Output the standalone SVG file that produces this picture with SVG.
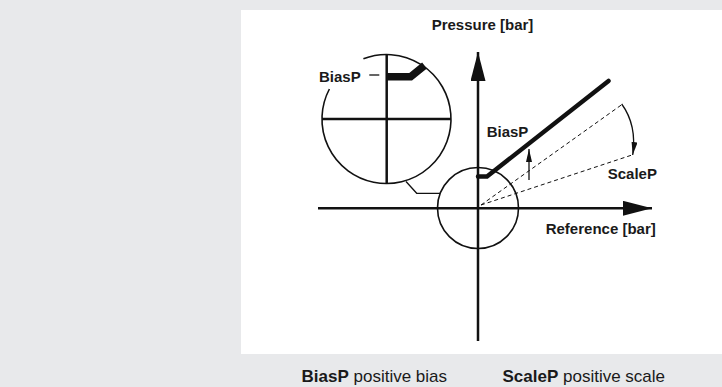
<svg xmlns="http://www.w3.org/2000/svg" width="722" height="387" viewBox="0 0 722 387">
  <style>
    .lbl { font-family: "Liberation Sans", Arial, Helvetica, sans-serif; font-weight: bold; font-size: 15px; fill: #1a1a1a; }
    .leg { font-family: "Liberation Sans", Arial, Helvetica, sans-serif; font-size: 17px; fill: #1a1a1a; }
    .legb { font-weight: bold; }
    .ax { stroke: #111; stroke-width: 2.5; fill: none; }
    .ring { stroke: #111; stroke-width: 1.6; fill: none; }
    .thin { stroke: #111; stroke-width: 1.3; fill: none; }
    .dash { stroke: #111; stroke-width: 1; stroke-dasharray: 4 3; fill: none; }
    .bias { stroke: #111; fill: none; stroke-linejoin: miter; }
  </style>
  <defs>
    <marker id="bigArrow" markerUnits="userSpaceOnUse" markerWidth="29" markerHeight="15" refX="29" refY="7.5" orient="auto">
      <path d="M0,0 L29,7.5 L0,15 z" fill="#111"/>
    </marker>
    <marker id="smallArrow" markerUnits="userSpaceOnUse" markerWidth="13" markerHeight="6" refX="13" refY="3" orient="auto">
      <path d="M0,0 L13,3 L0,6 z" fill="#111"/>
    </marker>
  </defs>

  <rect x="0" y="0" width="722" height="387" fill="#e8e9eb"/>
  <rect x="241" y="10" width="481" height="344" fill="#ffffff"/>

  <g id="connectors">
    <line id="y-axis" class="ax" x1="478" y1="341" x2="478" y2="52" marker-end="url(#bigArrow)"/>
    <line id="x-axis" class="ax" x1="318" y1="208.3" x2="652" y2="208.3" marker-end="url(#bigArrow)"/>
    <line class="dash" x1="481" y1="205" x2="622" y2="104.5"/>
    <line class="dash" x1="481" y1="205" x2="632" y2="155"/>
    <path id="scale-arrow" class="thin" d="M621.7,104 Q637,125 632.7,155" marker-end="url(#smallArrow)"/>
    <line id="bias-arrow" class="thin" x1="529" y1="180" x2="529" y2="149" marker-end="url(#smallArrow)"/>
    <polyline id="detail-link" class="thin" points="406,181.5 416.7,193.3 440,193.3"/>
  </g>

  <g id="bias-line">
    <polyline class="bias" stroke-width="4.5" stroke-linecap="round" points="478,176.5 487,176.5 608.5,81"/>
  </g>

  <g id="small-circle">
    <circle class="ring" cx="478" cy="208" r="40.5"/>
  </g>

  <g id="detail-circle">
    <path class="ring" d="M363.4,58.8 A64.5,64.5 0 1 1 329.4,89.0"/>
    <line class="ax" x1="386.7" y1="54.5" x2="386.7" y2="183.5"/>
    <line class="ax" x1="322" y1="119" x2="451" y2="119"/>
    <polyline class="bias" stroke-width="7.5" points="386.7,76.7 410.7,76.7 424.5,65.5"/>
    <line class="thin" x1="369.3" y1="75" x2="379.3" y2="75"/>
    <text class="lbl" x="319" y="81.7">BiasP</text>
  </g>

  <g id="labels">
    <text class="lbl" x="482.5" y="29.5" text-anchor="middle">Pressure [bar]</text>
    <text class="lbl" x="486.7" y="137.3">BiasP</text>
    <text class="lbl" x="607.7" y="179">ScaleP</text>
    <text class="lbl" x="545.7" y="234.3">Reference [bar]</text>
  </g>

  <g id="legend">
    <text class="leg" x="301.5" y="382"><tspan class="legb">BiasP</tspan> positive bias</text>
    <text class="leg" x="502.5" y="382"><tspan class="legb">ScaleP</tspan> positive scale</text>
  </g>
</svg>
